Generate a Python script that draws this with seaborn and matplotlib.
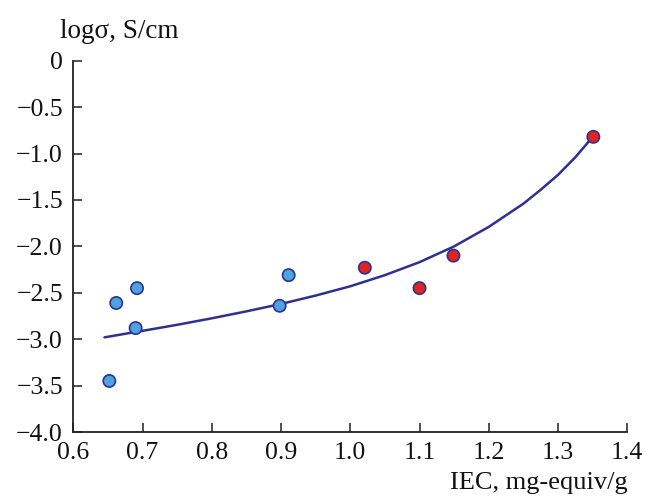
import numpy as np
import pandas as pd
import matplotlib
matplotlib.use("Agg")
import matplotlib.pyplot as plt
import seaborn as sns

# Measured samples: ion-exchange capacity vs. log conductivity
iec_blue = [0.652, 0.662, 0.692, 0.690, 0.898, 0.911]
logs_blue = [-3.45, -2.61, -2.45, -2.88, -2.64, -2.31]
iec_red = [1.021, 1.100, 1.149, 1.351]
logs_red = [-2.23, -2.45, -2.10, -0.82]

# Trend curve
curve_x = [0.645, 0.70, 0.75, 0.80, 0.85, 0.90, 0.95, 1.00, 1.05, 1.10,
           1.15, 1.20, 1.25, 1.275, 1.30, 1.325, 1.349]
curve_y = [-2.98, -2.91, -2.845, -2.775, -2.70, -2.62, -2.53, -2.43, -2.31,
           -2.17, -2.00, -1.79, -1.54, -1.39, -1.23, -1.04, -0.83]

x_ticks = [0.6, 0.7, 0.8, 0.9, 1.0, 1.1, 1.2, 1.3, 1.4]
y_ticks = [0, -0.5, -1.0, -1.5, -2.0, -2.5, -3.0, -3.5, -4.0]

pts = pd.DataFrame({
    "iec": iec_blue + iec_red,
    "logs": logs_blue + logs_red,
    "group": ["a"] * len(iec_blue) + ["b"] * len(iec_red),
})
fit = pd.DataFrame({"iec": curve_x, "logs": curve_y})

sns.set_theme(style="ticks")
plt.rcParams["font.family"] = ["Liberation Serif", "DejaVu Serif"]
plt.rcParams["axes.unicode_minus"] = True

fig = plt.figure(figsize=(6.46, 4.96), dpi=100)
ax = fig.add_axes([0.1135, 0.129, 0.8575, 0.7486])

line_col = "#2e3192"
sns.lineplot(data=fit, x="iec", y="logs", ax=ax, color=line_col,
             linewidth=1.8, sort=False, legend=False)
sns.scatterplot(data=pts, x="iec", y="logs", hue="group", ax=ax,
                palette={"a": "#4ba3df", "b": "#e0251f"},
                s=78, edgecolor=line_col, linewidth=1.2, legend=False,
                zorder=3)

ax.set_xlim(0.6, 1.4)
ax.set_ylim(-4.0, 0)
ax.set_xticks(x_ticks)
ax.set_yticks(y_ticks)
ax.set_xticklabels([f"{v:.1f}" for v in x_ticks])
ax.set_yticklabels(["0" if v == 0 else f"{v:.1f}".replace("-", "\u2212")
                    for v in y_ticks])

for s in ["top", "right"]:
    ax.spines[s].set_visible(False)
for s in ["left", "bottom"]:
    ax.spines[s].set_color("#222222")
    ax.spines[s].set_linewidth(1.3)

ax.tick_params(axis="both", direction="in", length=6.5, width=1.1,
               color="#222222", labelsize=18.5, labelcolor="#111111")
ax.tick_params(axis="x", pad=7)
ax.tick_params(axis="y", pad=7.5)

ax.set_xlabel("")
ax.set_ylabel("")
fig.text(0.093, 0.937, "log\u03c3, S/cm", fontsize=19.5, color="#111111",
         ha="left", va="center")
fig.text(0.971, 0.026, "IEC, mg-equiv/g", fontsize=19, color="#111111",
         ha="right", va="center")

fig.savefig("out.png", dpi=100)
